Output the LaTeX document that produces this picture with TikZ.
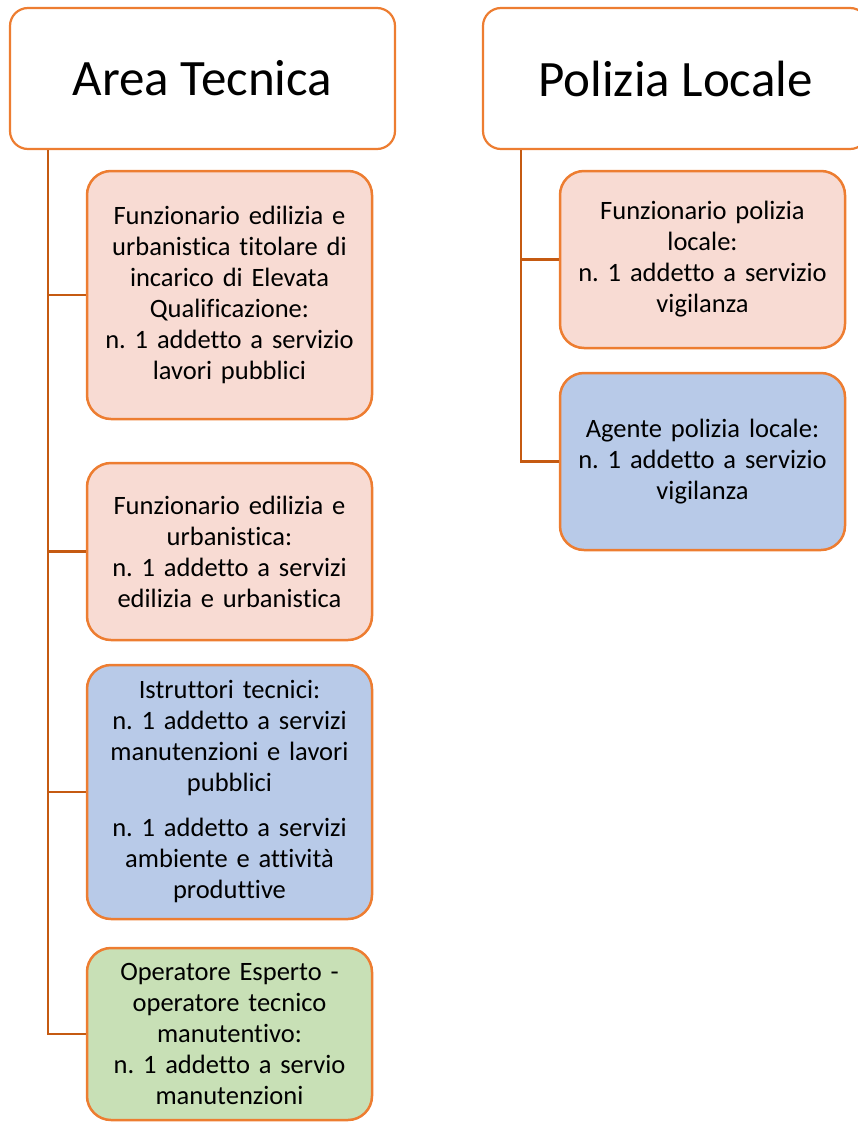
\documentclass[tikz,border=0pt]{standalone}
\usepackage{fontspec}
\setmainfont{Carlito}[Ligatures={NoCommon}]
\usetikzlibrary{calc}
\definecolor{borderor}{HTML}{ED7D31}
\definecolor{lineor}{HTML}{C55A11}
\definecolor{pinkf}{HTML}{F8DBD3}
\definecolor{bluef}{HTML}{B8CAE8}
\definecolor{greenf}{HTML}{C8E0B6}
\tikzset{
  header/.style={draw=borderor, line width=2.2pt, fill=white, rounded corners=18pt,
    minimum width=385pt, minimum height=141pt, inner sep=0pt,
    font=\fontsize{51}{60}\selectfont},
  box/.style={draw=borderor, line width=2.5pt, rounded corners=24pt,
    minimum width=285pt, inner sep=0pt, text width=280pt, align=center,
    font=\fontsize{26.5}{31}\selectfont},
  pinkbox/.style={box, fill=pinkf},
  bluebox/.style={box, fill=bluef},
  greenbox/.style={box, fill=greenf},
  conn/.style={draw=lineor, line width=2.5pt}
}
\frenchspacing
\begin{document}
\begin{tikzpicture}
\useasboundingbox (0pt,0pt) rectangle (858pt,-1122pt);
% headers
\node[header] (AT) at (202.5pt,-78.5pt) {Area Tecnica};
\node[header] (PL) at (675.5pt,-78.5pt) {Polizia Locale};
% left boxes
\node[pinkbox, minimum height=248pt] (L1) at (229.5pt,-295pt)
  {Funzionario edilizia e\\urbanistica titolare di\\incarico di Elevata\\Qualificazione:\\n. 1 addetto a servizio\\lavori pubblici};
\node[pinkbox, minimum height=177pt] (L2) at (229.5pt,-551.5pt)
  {Funzionario edilizia e\\urbanistica:\\n. 1 addetto a servizi\\edilizia e urbanistica};
\node[bluebox, minimum height=254pt] (L3) at (229.5pt,-792pt)
  {Istruttori tecnici:\\n. 1 addetto a servizi\\manutenzioni e lavori\\pubblici\\[14pt]n. 1 addetto a servizi\\ambiente e attività\\produttive};
\node[greenbox, minimum height=172pt] (L4) at (229.5pt,-1034pt)
  {Operatore Esperto -\\operatore tecnico\\manutentivo:\\n. 1 addetto a servio\\manutenzioni};
% right boxes
\node[pinkbox, minimum height=177pt] (R1) at (702.5pt,-259.5pt)
  {Funzionario polizia\\locale:\\n. 1 addetto a servizio\\vigilanza};
\node[bluebox, minimum height=177pt] (R2) at (702.5pt,-461.5pt)
  {Agente polizia locale:\\n. 1 addetto a servizio\\vigilanza};
% connectors
\coordinate (lt) at ($(AT.south west)+(39pt,0)$);
\coordinate (rt) at ($(PL.south west)+(39pt,0)$);
\draw[conn] (lt) |- (L4.west);
\draw[conn] (lt) |- (L1.west);
\draw[conn] (lt) |- (L2.west);
\draw[conn] (lt) |- (L3.west);
\draw[conn] (rt) |- (R2.west);
\draw[conn] (rt) |- (R1.west);
\end{tikzpicture}
\end{document}
